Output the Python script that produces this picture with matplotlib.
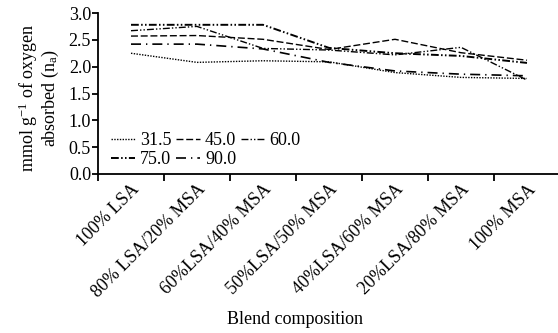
import numpy as np
import matplotlib
matplotlib.use("Agg")
from matplotlib import pyplot as plt

plt.rcParams["font.family"] = ["Liberation Serif", "DejaVu Serif"]
plt.rcParams["mathtext.fontset"] = "custom"
plt.rcParams["mathtext.rm"] = "Liberation Serif"
plt.rcParams["mathtext.it"] = "Liberation Serif:italic"

categories = [
    "100% LSA",
    "80% LSA/20% MSA",
    "60%LSA/40% MSA",
    "50%LSA/50% MSA",
    "40%LSA/60% MSA",
    "20%LSA/80% MSA",
    "100% MSA",
]
labels = ["31.5", "45.0", "60.0", "75.0", "90.0"]
s31_5 = [2.25, 2.08, 2.11, 2.09, 1.89, 1.80, 1.78]
s45_0 = [2.57, 2.58, 2.51, 2.32, 2.51, 2.26, 2.12]
s60_0 = [2.67, 2.75, 2.34, 2.31, 2.22, 2.36, 1.75]
s75_0 = [2.78, 2.78, 2.78, 2.35, 2.25, 2.20, 2.07]
s90_0 = [2.42, 2.42, 2.33, 2.08, 1.92, 1.86, 1.83]

styles = [
    dict(lw=1.0, ls=(0, (1, 1))),
    dict(lw=1.0, ls=(0, (5, 2))),
    dict(lw=1.0, ls=(0, (5, 1.5, 1, 1.5, 1, 1.5))),
    dict(lw=1.4, ls=(0, (4, 1.2, 0.8, 1.2, 0.8, 1.2))),
    dict(lw=1.2, ls=(0, (6, 3, 0.8, 3))),
]

FS = 13

fig = plt.figure(figsize=(5.58, 3.33), dpi=100)
ax = fig.add_axes([98 / 558, 159 / 333, 462 / 558, 161 / 333])

x = np.arange(len(categories))
handles = []
for vals, lab, st in zip([s31_5, s45_0, s60_0, s75_0, s90_0], labels, styles):
    h, = ax.plot(x, vals, color="black", label=lab, **st)
    handles.append(h)

ax.set_xlim(-0.5, len(categories) - 0.5)
ax.set_ylim(0, 3.0)
yt = np.arange(0, 3.01, 0.5)
ax.set_yticks(yt)
ax.set_yticklabels([f"{v:.1f}" for v in yt])

ax.set_xticks(np.arange(-0.5, len(categories), 1.0))
ax.set_xticklabels([])
ax.set_xticks(x, minor=True)
ax.set_xticklabels(categories, minor=True, rotation=45, ha="right", va="top",
                   rotation_mode="anchor", fontsize=FS)
ax.tick_params(axis="x", which="minor", length=0, pad=5)
ax.tick_params(axis="x", which="major", length=5, width=1.3, direction="out")
ax.tick_params(axis="y", length=4, width=1.3, direction="out", pad=1,
               labelsize=FS)

for side in ["top", "right"]:
    ax.spines[side].set_visible(False)
for side in ["left", "bottom"]:
    ax.spines[side].set_linewidth(1.3)

ax.set_ylabel("mmol g$^{-1}$ of oxygen\nabsorbed (n$_\\mathrm{a}$)", fontsize=FS,
              linespacing=1.0, va="center", ha="center")
ax.yaxis.set_label_coords(-0.128, 0.47)
fig.text(295 / 558, 14 / 333, "Blend composition", ha="center", va="center",
         fontsize=FS)

# legend is filled column by column, so reorder to read row by row
order = [0, 3, 1, 4, 2]
ax.legend([handles[i] for i in order], [labels[i] for i in order],
          loc="lower left", bbox_to_anchor=(0.005, -0.03), ncol=3, frameon=False,
          fontsize=FS, handlelength=1.3, handletextpad=0.3,
          columnspacing=0.25, labelspacing=0.1, borderaxespad=0.2)

fig.savefig("out.png", dpi=100)
